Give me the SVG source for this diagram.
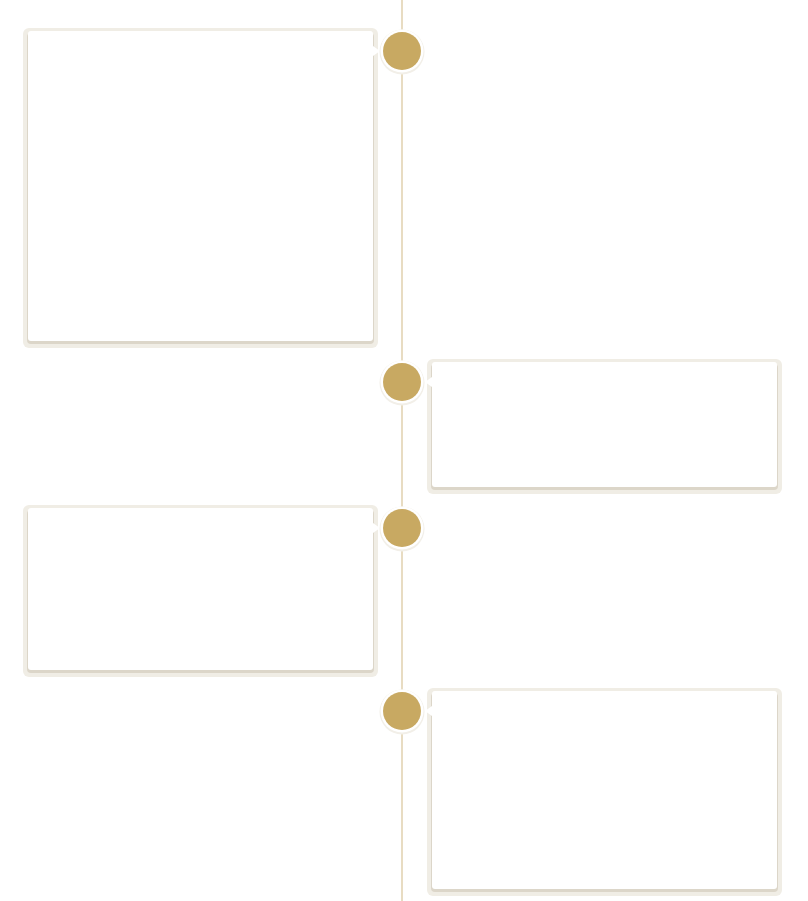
<svg xmlns="http://www.w3.org/2000/svg" width="808" height="901" viewBox="0 0 808 901">
<style>
.frame{fill:#f0ede5}
.shade{fill:#dcd6c9}
.card{fill:#ffffff}
.halo{fill:#f2efe8}
.dot-ring{fill:#ffffff}
.dot{fill:#c8a962}
</style>
<rect width="808" height="901" fill="#ffffff"/>
<g id="connectors">
<line x1="402" y1="0" x2="402" y2="901" stroke="#e8dcc2" stroke-width="2"/>
</g>
<g id="card1">
<rect class="frame" x="23" y="28" width="355" height="320" rx="6"/>
<rect class="shade" x="27" y="33" width="347" height="311" rx="4"/>
<rect class="card" x="28" y="31" width="345" height="310" rx="3"/>
<polygon class="card" points="373,46 380,51 373,56"/>
</g>
<g id="card2">
<rect class="frame" x="427" y="359" width="355" height="135" rx="6"/>
<rect class="shade" x="431" y="364" width="347" height="126" rx="4"/>
<rect class="card" x="432" y="362" width="345" height="125" rx="3"/>
<polygon class="card" points="432,377 425,382 432,387"/>
</g>
<g id="card3">
<rect class="frame" x="23" y="505" width="355" height="172" rx="6"/>
<rect class="shade" x="27" y="510" width="347" height="163" rx="4"/>
<rect class="card" x="28" y="508" width="345" height="162" rx="3"/>
<polygon class="card" points="373,523 380,528 373,533"/>
</g>
<g id="card4">
<rect class="frame" x="427" y="688" width="355" height="208" rx="6"/>
<rect class="shade" x="431" y="693" width="347" height="199" rx="4"/>
<rect class="card" x="432" y="691" width="345" height="198" rx="3"/>
<polygon class="card" points="432,706 425,711 432,716"/>
</g>
<g id="marker1"><circle class="halo" cx="402" cy="52" r="22.5"/><circle class="dot-ring" cx="402" cy="51" r="21.5"/><circle class="dot" cx="402" cy="51" r="19"/></g>
<g id="marker2"><circle class="halo" cx="402" cy="383" r="22.5"/><circle class="dot-ring" cx="402" cy="382" r="21.5"/><circle class="dot" cx="402" cy="382" r="19"/></g>
<g id="marker3"><circle class="halo" cx="402" cy="529" r="22.5"/><circle class="dot-ring" cx="402" cy="528" r="21.5"/><circle class="dot" cx="402" cy="528" r="19"/></g>
<g id="marker4"><circle class="halo" cx="402" cy="712" r="22.5"/><circle class="dot-ring" cx="402" cy="711" r="21.5"/><circle class="dot" cx="402" cy="711" r="19"/></g>
</svg>
